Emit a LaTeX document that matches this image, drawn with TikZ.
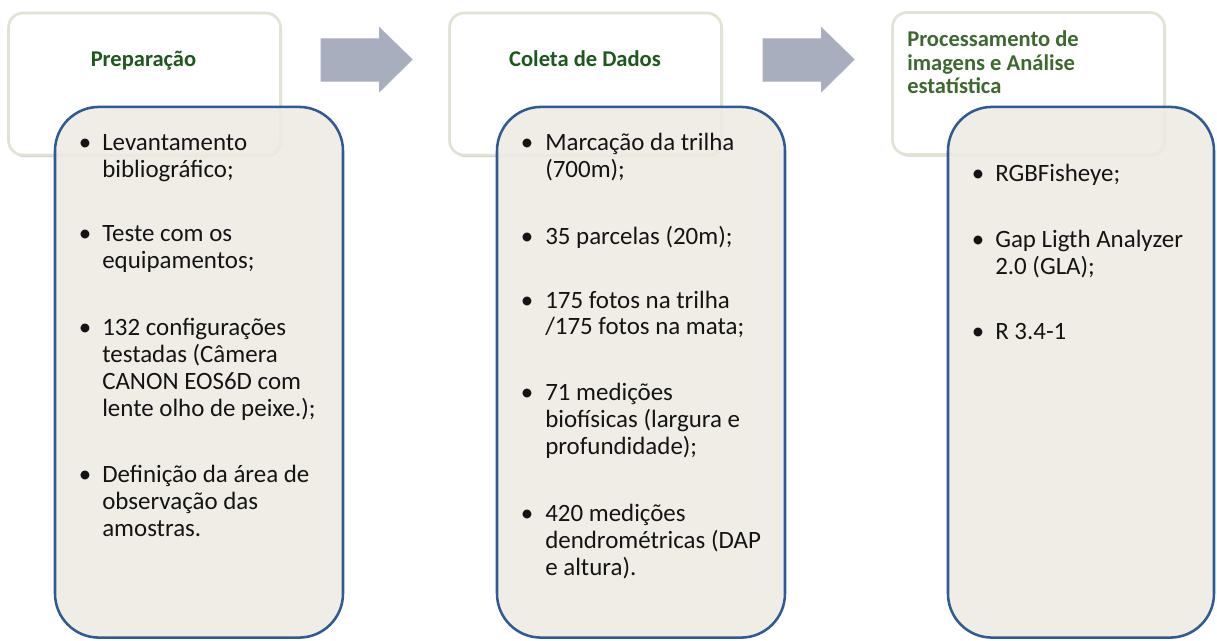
\documentclass[tikz,border=0pt]{standalone}
\usepackage{fontspec}
\setmainfont{Carlito}
\usetikzlibrary{shadows}
\definecolor{hdrborder}{HTML}{E4E2D4}
\definecolor{boxfill}{HTML}{EEEBE3}
\definecolor{boxborder}{HTML}{2E5B95}
\definecolor{arrowgray}{HTML}{A8AEBD}
\definecolor{titlegreen}{HTML}{1D581C}
\definecolor{titlegreenB}{HTML}{3C6A2E}
\definecolor{bodytext}{HTML}{141414}
\newcommand{\bodyfontA}{\fontsize{18.7}{20.25}\selectfont}
\newcommand{\bodyfontB}{\fontsize{18.7}{20.1}\selectfont}
\newcommand{\bodyfontC}{\fontsize{18.7}{20.6}\selectfont}
\newcommand{\titlefont}{\fontsize{16.9}{17.5}\selectfont\bfseries}
\begin{document}
\begin{tikzpicture}[x=0.75pt,y=-0.75pt,
  hdr/.style={draw=hdrborder, line width=2pt, fill=white, rounded corners=11pt, inner sep=0pt,
    minimum width=204pt, minimum height=106.5pt,
    drop shadow={shadow xshift=1.2pt, shadow yshift=-1.6pt, opacity=0.2, fill=black}},
  lst/.style={draw=boxborder, line width=1.9pt, fill=boxfill, fill opacity=0.88, rounded corners=33pt,
    inner sep=0pt, minimum height=398pt},
  ttl/.style={text=titlegreen, font=\titlefont, inner sep=0pt, anchor=base},
  itm/.style={text=bodytext, inner sep=0pt, anchor=base west},
  bul/.style={text=bodytext, inner sep=0pt, anchor=base, font=\bodyfontA},
  blockarrow/.style={fill=arrowgray}]
\useasboundingbox (0,0) rectangle (1217,640);
\fill[white] (0,0) rectangle (1217,640);

% header boxes
\node[hdr] (h1) at (144.5,84) {};
\node[hdr] (h2) at (585.5,84) {};
\node[hdr] (h3) at (1028.5,83.5) {};

% list boxes
\node[lst, minimum width=216pt] (b1) at (199,372.25) {};
\node[lst, minimum width=216pt] (b2) at (641,372.25) {};
\node[lst, minimum width=199.5pt] (b3) at (1081,372.25) {};

% block arrows
\fill[blockarrow] (320.7,38.3) -- (379,38.3) -- (379,26.7) -- (412.7,59.5) -- (379,92.7) -- (379,81.7) -- (320.7,81.7) -- cycle;
\fill[blockarrow] (762.7,38.3) -- (821,38.3) -- (821,26.7) -- (854.7,59.5) -- (821,92.7) -- (821,81.7) -- (762.7,81.7) -- cycle;

% titles
\node[ttl] (t1) at (143.5,66.5) {Preparação};
\node[ttl] (t2) at (585,66) {Coleta de Dados};
\node[ttl, text=titlegreenB, anchor=base west] (t3) at (907,46.7)
  {\parbox[t]{200pt}{\titlefont Processamento de\\ imagens e Análise\\ estatística}};

% box 1 items
\node[bul] (d11) at (85,150.5) {•};
\node[itm] (i11) at (102,150.5) {\parbox[t]{210pt}{\bodyfontA Levantamento\\ bibliográfico;}};
\node[bul] (d12) at (85,241.5) {•};
\node[itm] (i12) at (102,241.5) {\parbox[t]{210pt}{\bodyfontA Teste com os\\ equipamentos;}};
\node[bul] (d13) at (85,335) {•};
\node[itm] (i13) at (102,335) {\parbox[t]{210pt}{\bodyfontA 132 configurações\\ testadas (Câmera\\ CANON EOS6D com\\ lente olho de peixe.);}};
\node[bul] (d14) at (85,482.7) {•};
\node[itm] (i14) at (102,482.7) {\parbox[t]{210pt}{\bodyfontA Definição da área de\\ observação das\\ amostras.}};

% box 2 items
\node[bul] (d21) at (527,150.5) {•};
\node[itm] (i21) at (545,150.5) {\parbox[t]{210pt}{\bodyfontB Marcação da trilha\\ (700m);}};
\node[bul] (d22) at (527,244) {•};
\node[itm] (i22) at (545,244) {\parbox[t]{210pt}{\bodyfontB 35 parcelas (20m);}};
\node[bul] (d23) at (527,308) {•};
\node[itm] (i23) at (545,308) {\parbox[t]{210pt}{\bodyfontB 175 fotos na trilha\\ /175 fotos na mata;}};
\node[bul] (d24) at (527,400.7) {•};
\node[itm] (i24) at (545,400.7) {\parbox[t]{210pt}{\bodyfontB 71 medições\\ biofísicas (largura e\\ profundidade);}};
\node[bul] (d25) at (527,521.7) {•};
\node[itm] (i25) at (545,521.7) {\parbox[t]{210pt}{\bodyfontB 420 medições\\ dendrométricas (DAP\\ e altura).}};

% box 3 items
\node[bul] (d31) at (978,181.7) {•};
\node[itm] (i31) at (995,181.7) {\parbox[t]{200pt}{\bodyfontC RGBFisheye;}};
\node[bul] (d32) at (978,247.3) {•};
\node[itm] (i32) at (995,247.3) {\parbox[t]{200pt}{\bodyfontC Gap Ligth Analyzer\\ 2.0 (GLA);}};
\node[bul] (d33) at (978,339.3) {•};
\node[itm] (i33) at (995,339.3) {\parbox[t]{200pt}{\bodyfontC R 3.4-1}};
\end{tikzpicture}
\end{document}
